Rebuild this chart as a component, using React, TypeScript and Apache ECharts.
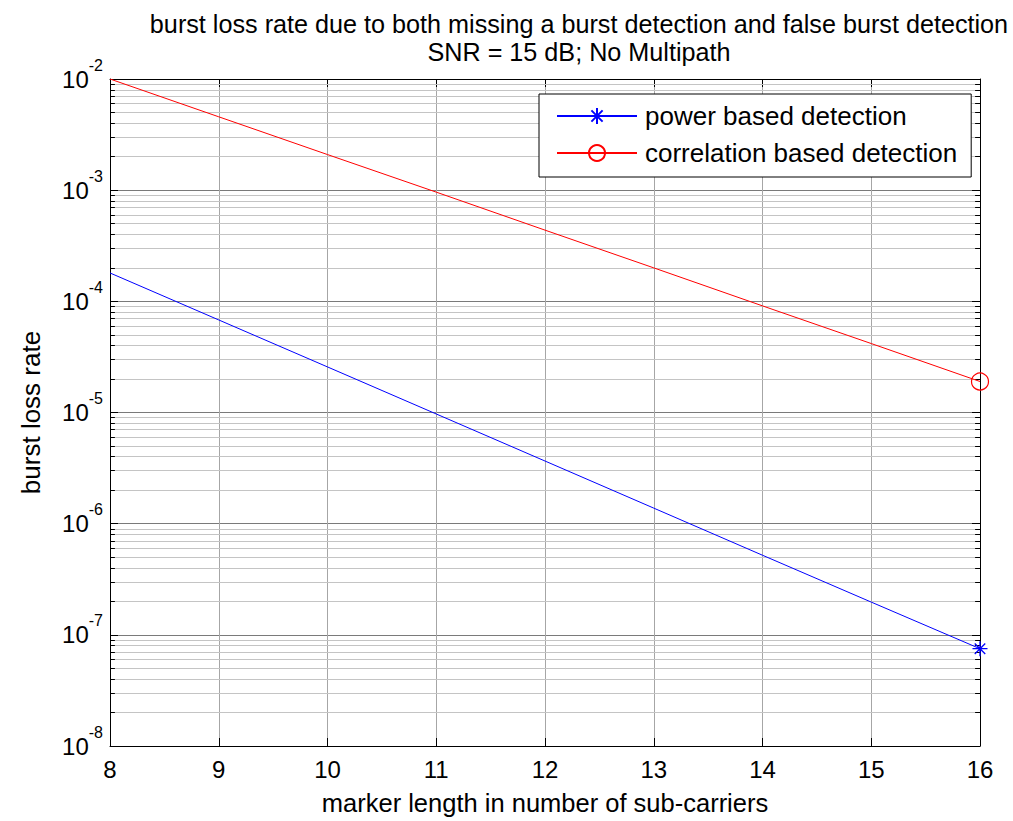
import React, { useEffect, useRef } from 'react';
import * as echarts from 'echarts';

const markerLengths = [8, 9, 10, 11, 12, 13, 14, 15, 16];
const powerBased = [1.8e-4, 6.8e-5, 2.57e-5, 9.7e-6, 3.66e-6, 1.38e-6, 5.2e-7, 1.97e-7, 7.5e-8];
const correlationBased = [1.0e-2, 4.57e-3, 2.09e-3, 9.6e-4, 4.37e-4, 2.0e-4, 9.1e-5, 4.17e-5, 1.9e-5];
const seriesNames = ['power based detection', 'correlation based detection'];
const titleText = 'burst loss rate due to both missing a burst detection and false burst detection\nSNR = 15 dB; No Multipath';
const xAxisName = 'marker length in number of sub-carriers';
const yAxisName = 'burst loss rate';
const minorExponents = [-8, -7, -6, -5, -4, -3];
const minorMultipliers = [2, 3, 4, 5, 6, 7, 8, 9];

const FONT = '"Liberation Sans", Arial, Helvetica, sans-serif';
const STAR = 'path://M0,-10L0,10M-10,0L10,0M-7,-7L7,7M-7,7L7,-7';

export default function App() {
  const ref = useRef<HTMLDivElement>(null);
  useEffect(() => {
    if (!ref.current) return;
    const chart = echarts.init(ref.current, null, { renderer: 'svg' });
    const minorValues: number[] = [];
    minorExponents.forEach((e) => minorMultipliers.forEach((m) => minorValues.push(m * Math.pow(10, e))));
    const xMin = markerLengths[0];
    const xMax = markerLengths[markerLengths.length - 1];
    const tickLen = 0.045;

    const mkData = (vals: number[]) =>
      vals.map((v, i) =>
        i === vals.length - 1 ? { value: [markerLengths[i], v] } : { value: [markerLengths[i], v], symbol: 'none' }
      );

    const minorGrid = minorValues.map((v) => ({ coords: [[xMin, v], [xMax, v]] }));
    const minorTicks = [
      ...minorValues.map((v) => ({ coords: [[xMin, v], [xMin + tickLen, v]] })),
      ...minorValues.map((v) => ({ coords: [[xMax - tickLen, v], [xMax, v]] })),
    ];

    const option: any = {
      animation: false,
      backgroundColor: '#ffffff',
      textStyle: { fontFamily: FONT, color: '#000' },
      title: {
        text: titleText,
        left: 574,
        textAlign: 'center',
        top: 5,
        textStyle: { fontFamily: FONT, fontSize: 25.2, fontWeight: 'normal', color: '#000', lineHeight: 28 },
      },
      grid: { left: 110, right: 33, top: 79, bottom: 73 },
      legend: {
        data: seriesNames,
        orient: 'vertical',
        left: 539,
        top: 94,
        backgroundColor: '#ffffff',
        borderColor: '#000',
        borderWidth: 1,
        borderRadius: 0,
        padding: [9, 14, 11, 17],
        itemWidth: 80,
        itemHeight: 20,
        itemGap: 11,
        textStyle: { fontFamily: FONT, fontSize: 26, color: '#000', lineHeight: 26, padding: [0, 0, 0, 3] },
      },
      xAxis: [
        {
          type: 'value',
          min: xMin,
          max: xMax,
          interval: 1,
          name: xAxisName,
          nameLocation: 'middle',
          nameGap: 44,
          nameTextStyle: { fontFamily: FONT, fontSize: 25.5, color: '#000' },
          axisLine: { lineStyle: { color: '#000', width: 1 } },
          axisTick: { inside: true, length: 8, lineStyle: { color: '#000' } },
          axisLabel: { fontFamily: FONT, fontSize: 24, color: '#000', margin: 11 },
          splitLine: { show: true, lineStyle: { color: '#a6a6a6', width: 1 } },
        },
        {
          type: 'value',
          position: 'top',
          min: xMin,
          max: xMax,
          interval: 1,
          axisLine: { lineStyle: { color: '#000', width: 1 } },
          axisTick: { inside: true, length: 8, lineStyle: { color: '#000' } },
          axisLabel: { show: false },
          splitLine: { show: false },
        },
      ],
      yAxis: [
        {
          type: 'log',
          logBase: 10,
          min: 1e-8,
          max: 1e-2,
          name: yAxisName,
          nameLocation: 'middle',
          nameGap: 66,
          nameTextStyle: { fontFamily: FONT, fontSize: 26, color: '#000' },
          axisLine: { show: true, lineStyle: { color: '#000', width: 1 } },
          axisTick: { inside: true, length: 8, lineStyle: { color: '#000' } },
          axisLabel: {
            margin: 7,
            formatter: (v: number) => `{b|10}{s|${Math.round(Math.log10(v))}}`,
            rich: {
              b: { fontFamily: FONT, fontSize: 24, color: '#000', verticalAlign: 'middle' },
              s: { fontFamily: FONT, fontSize: 16, color: '#000', padding: [0, 0, 28, 0], verticalAlign: 'middle' },
            },
          },
          splitLine: { show: true, lineStyle: { color: '#7a7a7a', width: 1 } },
        },
        {
          type: 'log',
          logBase: 10,
          min: 1e-8,
          max: 1e-2,
          position: 'right',
          axisLine: { show: true, lineStyle: { color: '#000', width: 1 } },
          axisTick: { inside: true, length: 8, lineStyle: { color: '#000' } },
          axisLabel: { show: false },
          splitLine: { show: false },
        },
      ],
      series: [
        {
          name: 'minor-grid',
          type: 'lines',
          coordinateSystem: 'cartesian2d',
          xAxisIndex: 0,
          yAxisIndex: 0,
          z: 1,
          silent: true,
          lineStyle: { color: '#c4c4c4', width: 1, opacity: 1 },
          data: minorGrid,
        },
        {
          name: 'minor-ticks',
          type: 'lines',
          coordinateSystem: 'cartesian2d',
          xAxisIndex: 0,
          yAxisIndex: 0,
          z: 2,
          silent: true,
          lineStyle: { color: '#000', width: 1, opacity: 1 },
          data: minorTicks,
        },
        {
          name: seriesNames[0],
          type: 'line',
          z: 3,
          symbol: STAR,
          symbolSize: 15,
          lineStyle: { color: '#0000ff', width: 1 },
          itemStyle: { color: '#0000ff', borderColor: '#0000ff', borderWidth: 1.3 },
          data: mkData(powerBased),
        },
        {
          name: seriesNames[1],
          type: 'line',
          z: 3,
          symbol: 'circle',
          symbolSize: 17,
          lineStyle: { color: '#ff0000', width: 1 },
          itemStyle: { color: 'rgba(0,0,0,0)', borderColor: '#ff0000', borderWidth: 1.2 },
          data: mkData(correlationBased),
        },
      ],
    };
    chart.setOption(option);
    return () => chart.dispose();
  }, []);
  return <div ref={ref} style={{ position: 'absolute', left: 0, top: 0, width: 1013, height: 821 }} />;
}
